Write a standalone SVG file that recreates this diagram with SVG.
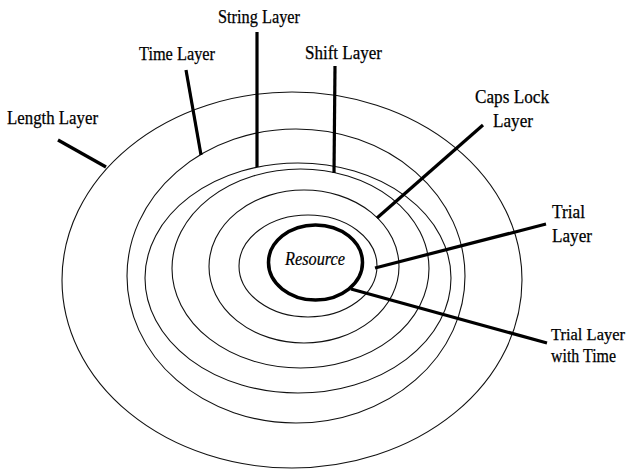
<svg xmlns="http://www.w3.org/2000/svg" width="630" height="470" viewBox="0 0 630 470">
<style>
.ring{fill:none;stroke:#111;stroke-width:1.1}
.res{fill:none;stroke:#000;stroke-width:3.5}
.lead{stroke:#000;stroke-width:3.2;stroke-linecap:butt;fill:none}
.lbl{font-family:"Liberation Serif","DejaVu Serif",serif;font-size:19px;fill:#000;stroke:#000;stroke-width:0.25}
.sm{font-size:17px}
.resl{font-family:"Liberation Serif","DejaVu Serif",serif;font-size:18px;font-style:italic;fill:#000;stroke:#000;stroke-width:0.2}
</style>
<rect width="630" height="470" fill="#fff"/>
<g id="length-layer">
<ellipse class="ring" cx="292" cy="280" rx="230" ry="188"/>
<text class="lbl" x="7" y="124" textLength="91" lengthAdjust="spacingAndGlyphs">Length Layer</text>
</g>
<g id="time-layer">
<ellipse class="ring" cx="296" cy="276" rx="169" ry="147"/>
<text class="lbl" x="139" y="60" textLength="76" lengthAdjust="spacingAndGlyphs">Time Layer</text>
</g>
<g id="string-layer">
<ellipse class="ring" cx="298" cy="278" rx="153" ry="115"/>
<text class="lbl" x="218" y="23" textLength="82" lengthAdjust="spacingAndGlyphs">String Layer</text>
</g>
<g id="shift-layer">
<ellipse class="ring" cx="300.5" cy="268.5" rx="128.5" ry="99.5"/>
<text class="lbl" x="305" y="59" textLength="77" lengthAdjust="spacingAndGlyphs">Shift Layer</text>
</g>
<g id="caps-lock-layer">
<ellipse class="ring" cx="304" cy="266.5" rx="95" ry="76.5"/>
<text class="lbl" x="475" y="103" textLength="74" lengthAdjust="spacingAndGlyphs">Caps  Lock</text>
<text class="lbl" x="493" y="127" textLength="40" lengthAdjust="spacingAndGlyphs">Layer</text>
</g>
<g id="trial-layer">
<ellipse class="ring" cx="308" cy="266" rx="69" ry="51"/>
<text class="lbl" x="552" y="218" textLength="33" lengthAdjust="spacingAndGlyphs">Trial</text>
<text class="lbl" x="552" y="242" textLength="40" lengthAdjust="spacingAndGlyphs">Layer</text>
</g>
<g id="resource">
<ellipse class="res" cx="315.5" cy="262.5" rx="47" ry="37.5"/>
<text class="resl" x="285" y="265" textLength="60" lengthAdjust="spacingAndGlyphs">Resource</text>
</g>
<g id="trial-layer-with-time">
<text class="lbl sm" x="551" y="340" textLength="74" lengthAdjust="spacingAndGlyphs">Trial Layer</text>
<text class="lbl" x="551" y="362" textLength="65" lengthAdjust="spacingAndGlyphs">with Time</text>
</g>
<g id="connectors">
<line class="lead" x1="58" y1="140" x2="106" y2="167"/>
<line class="lead" x1="186" y1="70" x2="201" y2="155"/>
<line class="lead" x1="257" y1="32" x2="257" y2="167"/>
<line class="lead" x1="335" y1="66" x2="334" y2="173"/>
<line class="lead" x1="483" y1="125" x2="377" y2="218"/>
<line class="lead" x1="546" y1="224" x2="375" y2="268"/>
<line class="lead" x1="351" y1="289" x2="547" y2="343"/>
</g>
</svg>
